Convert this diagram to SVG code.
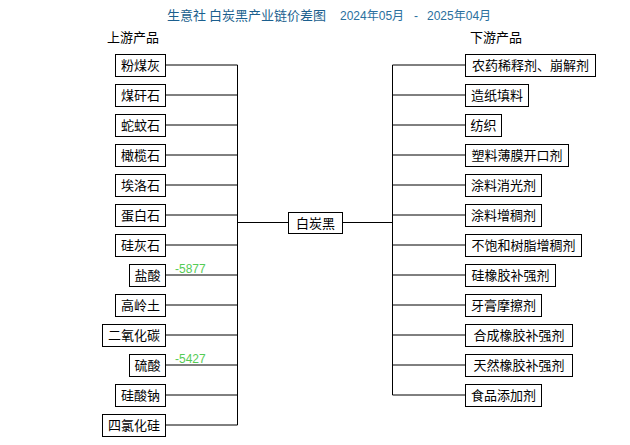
<svg xmlns="http://www.w3.org/2000/svg" width="630" height="445" viewBox="0 0 630 445">
<style>
.bx{fill:#fff;stroke:#000;stroke-width:1}
.t{font-family:"Noto Sans CJK SC","Liberation Sans",sans-serif;font-size:13px;fill:#000;text-anchor:middle}
.h{font-family:"Noto Sans CJK SC","Liberation Sans",sans-serif;font-size:13px;fill:#000}
.ttl{font-family:"Noto Sans CJK SC","Liberation Sans",sans-serif;font-size:13px;fill:#1b5f8e}
.dt{font-family:"Liberation Sans","Noto Sans CJK SC",sans-serif;font-size:12px;fill:#2a6f9e}
.g{font-family:"Liberation Sans",sans-serif;font-size:12px;fill:#55cc55}
.ln{stroke:#000;stroke-width:1;fill:none}
</style>
<rect width="630" height="445" fill="#fff"/>
<text class="ttl" x="167" y="19.5">生意社 白炭黑产业链价差图</text>
<text class="dt" y="19.5"><tspan x="340">2024</tspan><tspan font-family="Noto Sans CJK SC">年</tspan>05<tspan font-family="Noto Sans CJK SC">月</tspan><tspan x="414">-</tspan><tspan x="427">2025</tspan><tspan font-family="Noto Sans CJK SC">年</tspan>04<tspan font-family="Noto Sans CJK SC">月</tspan></text>
<text class="h" x="107" y="41.5">上游产品</text>
<text class="h" x="470" y="41.5">下游产品</text>
<g id="connectors">
<path class="ln" d="M237.5 65V425M392.5 65V395M237.5 222.5H288.5M342.5 222.5H392.5"/>
<path class="ln" d="M165.5 65H237.5M165.5 95H237.5M165.5 125H237.5M165.5 155H237.5M165.5 185H237.5M165.5 215H237.5M165.5 245H237.5M165.5 275H237.5M165.5 305H237.5M165.5 335H237.5M165.5 365H237.5M165.5 395H237.5M165.5 425H237.5"/>
<path class="ln" d="M392.5 65H465.5M392.5 95H465.5M392.5 125H465.5M392.5 155H465.5M392.5 185H465.5M392.5 215H465.5M392.5 245H465.5M392.5 275H465.5M392.5 305H465.5M392.5 335H465.5M392.5 365H465.5M392.5 395H465.5"/>
</g>
<g id="center"><rect class="bx" x="288.5" y="212.5" width="54" height="21"/><text class="t" x="315.5" y="227.5">白炭黑</text></g>
<g id="u1"><rect class="bx" x="115.5" y="54.5" width="50" height="22"/><text class="t" x="140.5" y="70">粉煤灰</text></g>
<g id="u2"><rect class="bx" x="115.5" y="84.5" width="50" height="22"/><text class="t" x="140.5" y="100">煤矸石</text></g>
<g id="u3"><rect class="bx" x="115.5" y="114.5" width="50" height="22"/><text class="t" x="140.5" y="130">蛇蚊石</text></g>
<g id="u4"><rect class="bx" x="115.5" y="144.5" width="50" height="22"/><text class="t" x="140.5" y="160">橄榄石</text></g>
<g id="u5"><rect class="bx" x="115.5" y="174.5" width="50" height="22"/><text class="t" x="140.5" y="190">埃洛石</text></g>
<g id="u6"><rect class="bx" x="115.5" y="204.5" width="50" height="22"/><text class="t" x="140.5" y="220">蛋白石</text></g>
<g id="u7"><rect class="bx" x="115.5" y="234.5" width="50" height="22"/><text class="t" x="140.5" y="250">硅灰石</text></g>
<g id="u8"><rect class="bx" x="129.5" y="264.5" width="36" height="22"/><text class="t" x="147.5" y="280">盐酸</text><text class="g" x="175" y="272.5">-5877</text></g>
<g id="u9"><rect class="bx" x="115.5" y="294.5" width="50" height="22"/><text class="t" x="140.5" y="310">高岭土</text></g>
<g id="u10"><rect class="bx" x="102.5" y="324.5" width="63" height="22"/><text class="t" x="134" y="340">二氧化碳</text></g>
<g id="u11"><rect class="bx" x="129.5" y="354.5" width="36" height="22"/><text class="t" x="147.5" y="370">硫酸</text><text class="g" x="175" y="362.5">-5427</text></g>
<g id="u12"><rect class="bx" x="115.5" y="384.5" width="50" height="22"/><text class="t" x="140.5" y="400">硅酸钠</text></g>
<g id="u13"><rect class="bx" x="102.5" y="414.5" width="63" height="22"/><text class="t" x="134" y="430">四氯化硅</text></g>
<g id="d1"><rect class="bx" x="465.5" y="54.5" width="130" height="22"/><text class="t" x="530.5" y="70">农药稀释剂、崩解剂</text></g>
<g id="d2"><rect class="bx" x="465.5" y="84.5" width="63" height="22"/><text class="t" x="497" y="100">造纸填料</text></g>
<g id="d3"><rect class="bx" x="465.5" y="114.5" width="36" height="22"/><text class="t" x="483.5" y="130">纺织</text></g>
<g id="d4"><rect class="bx" x="465.5" y="144.5" width="103" height="22"/><text class="t" x="517" y="160">塑料薄膜开口剂</text></g>
<g id="d5"><rect class="bx" x="465.5" y="174.5" width="76" height="22"/><text class="t" x="503.5" y="190">涂料消光剂</text></g>
<g id="d6"><rect class="bx" x="465.5" y="204.5" width="76" height="22"/><text class="t" x="503.5" y="220">涂料增稠剂</text></g>
<g id="d7"><rect class="bx" x="465.5" y="234.5" width="116" height="22"/><text class="t" x="523.5" y="250">不饱和树脂增稠剂</text></g>
<g id="d8"><rect class="bx" x="465.5" y="264.5" width="90" height="22"/><text class="t" x="510.5" y="280">硅橡胶补强剂</text></g>
<g id="d9"><rect class="bx" x="465.5" y="294.5" width="76" height="22"/><text class="t" x="503.5" y="310">牙膏摩擦剂</text></g>
<g id="d10"><rect class="bx" x="465.5" y="324.5" width="107" height="22"/><text class="t" x="519" y="340">合成橡胶补强剂</text></g>
<g id="d11"><rect class="bx" x="465.5" y="354.5" width="107" height="22"/><text class="t" x="519" y="370">天然橡胶补强剂</text></g>
<g id="d12"><rect class="bx" x="465.5" y="384.5" width="76" height="22"/><text class="t" x="503.5" y="400">食品添加剂</text></g>
</svg>
